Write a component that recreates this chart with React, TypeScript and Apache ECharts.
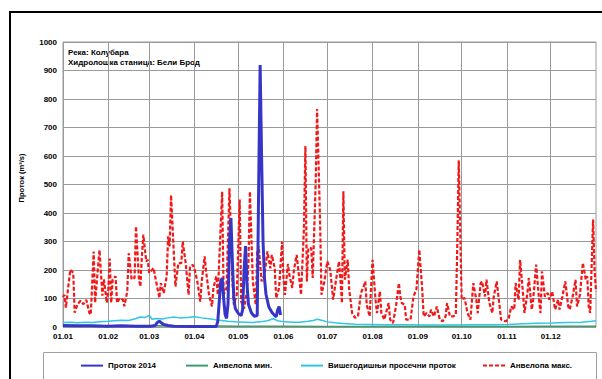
import React, { useEffect, useRef } from "react";
import * as echarts from "echarts";

// Month start days (2014, non-leap) and their tick labels
const MONTH_START_DAYS = [0, 31, 59, 90, 120, 151, 181, 212, 243, 273, 304, 334];
const MONTH_LABELS = ["01.01", "01.02", "01.03", "01.04", "01.05", "01.06", "01.07", "01.08", "01.09", "01.10", "01.11", "01.12"];
const DAYS_IN_YEAR = 365;

const Y_MIN = 0;
const Y_MAX = 1000;
const Y_STEP = 100;

const SERIES_NAMES = ["Проток 2014", "Анвелопа мин.", "Вишегодишњи просечни проток", "Анвелопа макс."];

// [day index, value]
const flow2014: [number, number][] = [
  [0, 5], [10, 4], [20, 4], [30, 3], [40, 4], [50, 3], [60, 3], [63, 5], [64, 12], [65, 18], [66, 20], [67, 16],
  [69, 9], [72, 5], [76, 3], [90, 2], [105, 2], [106, 20], [107, 90], [108, 160], [109, 172], [110, 100], [111, 45],
  [112, 30], [113, 80], [114, 300], [115, 382], [116, 230], [117, 100], [118, 65], [120, 48], [122, 40], [123, 60],
  [124, 200], [125, 284], [126, 150], [127, 80], [129, 50], [131, 38], [133, 40], [134, 500], [135, 919], [136, 600],
  [137, 300], [138, 170], [139, 115], [141, 70], [143, 52], [145, 40], [146, 36], [147, 60], [148, 72], [149, 42],
];

const envelopeMin: [number, number][] = [
  [0, 4], [30, 4], [60, 4], [90, 4], [120, 3], [150, 3], [180, 2], [210, 1.5], [270, 1.5], [300, 2], [330, 2.5], [365, 3],
];

const meanFlow: [number, number][] = [
  [0, 16], [5, 17], [10, 15], [15, 17], [20, 16], [25, 18], [31, 20], [35, 22], [40, 24], [45, 23], [50, 30], [53, 35],
  [56, 33], [59, 41], [61, 27], [64, 30], [68, 28], [72, 32], [76, 35], [80, 32], [85, 33], [90, 36], [95, 32], [100, 29],
  [105, 25], [110, 22], [113, 20], [118, 18], [125, 17], [130, 16], [135, 18], [140, 22], [144, 29], [147, 22], [152, 18],
  [158, 17], [162, 17], [168, 20], [172, 24], [174, 27], [177, 24], [181, 18], [186, 15], [192, 12], [200, 10], [210, 9],
  [220, 8], [235, 8], [250, 7], [265, 7], [280, 8], [295, 8], [305, 9], [315, 11], [325, 13], [335, 14], [345, 16],
  [355, 17], [362, 20], [365, 22],
];

const envelopeMax: [number, number][] = [
  [0, 105], [1, 113], [2, 68], [3, 115], [5, 201], [7, 190], [8, 50], [10, 80], [12, 92], [14, 80], [16, 95], [18, 50],
  [19, 43], [21, 265], [22, 85], [24, 213], [25, 270], [27, 110], [28, 167], [30, 85], [31, 132], [32, 240], [33, 85],
  [34, 167], [36, 178], [37, 85], [39, 102], [41, 96], [42, 73], [44, 125], [45, 259], [47, 167], [49, 172], [50, 353],
  [52, 167], [53, 142], [54, 247], [55, 324], [57, 230], [58, 236], [59, 190], [61, 201], [62, 207], [64, 154], [66, 102],
  [67, 154], [69, 119], [71, 178], [72, 318], [73, 283], [74, 463], [76, 247], [77, 142], [79, 224], [81, 224], [82, 300],
  [84, 224], [86, 113], [87, 213], [89, 218], [90, 205], [92, 160], [94, 89], [95, 160], [97, 248], [98, 195], [100, 113],
  [102, 72], [103, 137], [105, 178], [106, 113], [109, 475], [110, 113], [112, 137], [114, 487], [116, 160], [117, 78],
  [119, 113], [121, 447], [122, 89], [124, 65], [126, 125], [127, 230], [128, 475], [130, 160], [132, 78], [133, 265],
  [134, 283], [136, 160], [138, 183], [140, 265], [142, 206], [143, 253], [145, 206], [146, 101], [148, 137], [150, 300],
  [151, 172], [152, 113], [154, 221], [155, 183], [157, 137], [158, 195], [160, 253], [162, 160], [163, 113], [165, 347],
  [166, 635], [167, 160], [168, 277], [170, 277], [171, 172], [173, 500], [174, 765], [176, 382], [177, 113], [179, 160],
  [181, 230], [183, 200], [185, 96], [187, 166], [189, 230], [190, 166], [191, 84], [192, 476], [193, 166], [195, 236],
  [196, 131], [198, 49], [200, 32], [202, 37], [204, 119], [206, 143], [207, 160], [208, 78], [210, 37], [211, 143],
  [212, 236], [214, 96], [215, 49], [217, 125], [218, 49], [220, 26], [223, 84], [224, 26], [226, 14], [228, 72],
  [230, 154], [231, 107], [232, 84], [234, 78], [235, 26], [238, 26], [240, 107], [242, 131], [244, 271], [246, 131],
  [247, 37], [249, 49], [251, 37], [252, 61], [254, 37], [256, 72], [258, 26], [260, 20], [262, 37], [263, 84], [265, 37],
  [267, 37], [269, 43], [270, 283], [271, 585], [273, 96], [275, 102], [277, 49], [279, 26], [281, 154], [283, 96],
  [284, 49], [286, 154], [287, 160], [289, 107], [290, 166], [292, 84], [294, 49], [295, 107], [297, 160], [299, 72],
  [300, 26], [303, 20], [305, 26], [306, 49], [307, 72], [309, 61], [310, 154], [312, 96], [313, 236], [315, 119],
  [316, 49], [318, 119], [319, 172], [321, 61], [322, 96], [324, 219], [326, 96], [327, 49], [328, 195], [330, 107],
  [332, 119], [333, 96], [335, 125], [337, 61], [339, 96], [340, 61], [342, 107], [344, 160], [346, 72], [347, 61],
  [349, 107], [351, 166], [352, 72], [354, 113], [356, 225], [357, 195], [358, 166], [359, 178], [360, 72], [361, 49],
  [363, 377], [364, 200], [365, 125],
];

const COLORS = {
  flow: "#3535c8",
  min: "#3a9d6e",
  mean: "#2ec6e6",
  max: "#f01818",
};

const FONT = "'Liberation Sans', Arial, sans-serif";

function buildCategories(): string[] {
  const cats: string[] = [];
  let m = 0;
  for (let d = 0; d <= DAYS_IN_YEAR; d++) {
    while (m + 1 < MONTH_START_DAYS.length && d >= MONTH_START_DAYS[m + 1]) m++;
    if (d === DAYS_IN_YEAR) {
      cats.push("01.01.");
      continue;
    }
    const dayOfMonth = d - MONTH_START_DAYS[m] + 1;
    const label = MONTH_LABELS[m].slice(3);
    cats.push(String(dayOfMonth).padStart(2, "0") + "." + label);
  }
  return cats;
}

export default function App() {
  const ref = useRef<HTMLDivElement>(null);

  useEffect(() => {
    if (!ref.current) return;
    const chart = echarts.init(ref.current, null, { renderer: "svg" });
    const categories = buildCategories();
    const monthSet = new Set(MONTH_START_DAYS);

    const legendCommon = {
      top: 360,
      padding: 0,
      itemWidth: 22,
      itemHeight: 14,
      itemStyle: { opacity: 0 },
      textStyle: { fontSize: 8, fontWeight: "bold", color: "#000", fontFamily: FONT },
      selectedMode: false,
    };

    chart.setOption({
      animation: false,
      backgroundColor: "#fff",
      grid: {
        left: 63,
        right: 6,
        top: 42,
        bottom: 52,
        show: true,
        borderColor: "#9a9a9a",
        borderWidth: 1,
      },
      legend: [
        { ...legendCommon, left: 80, data: [SERIES_NAMES[0]] },
        { ...legendCommon, left: 185, data: [SERIES_NAMES[1]] },
        { ...legendCommon, left: 300, data: [SERIES_NAMES[2]] },
        { ...legendCommon, left: 482, data: [SERIES_NAMES[3]] },
      ],
      xAxis: {
        type: "category",
        data: categories,
        boundaryGap: false,
        axisLine: { show: false },
        axisTick: { show: false },
        axisLabel: {
          interval: (i: number) => monthSet.has(i),
          formatter: (v: string, i: number) => {
            const idx = MONTH_START_DAYS.indexOf(i);
            return idx >= 0 ? MONTH_LABELS[idx] : "";
          },
          fontSize: 8,
          fontWeight: "bold",
          color: "#000",
          fontFamily: FONT,
          margin: 5,
        },
        splitLine: {
          show: true,
          interval: (i: number) => monthSet.has(i),
          lineStyle: { color: "#9a9a9a", width: 1 },
        },
      },
      yAxis: {
        type: "value",
        min: Y_MIN,
        max: Y_MAX,
        interval: Y_STEP,
        axisLine: { show: false },
        axisTick: { show: false },
        axisLabel: {
          formatter: (v: number) => String(v),
          fontSize: 8,
          fontWeight: "bold",
          color: "#000",
          fontFamily: FONT,
          margin: 6,
        },
        splitLine: { show: true, lineStyle: { color: "#9a9a9a", width: 1 } },
      },
      graphic: [
        {
          type: "rect",
          shape: { x: 10, y: 12, width: 700, height: 500 },
          style: { fill: "none", stroke: "#000", lineWidth: 2 },
          silent: true,
        },
        {
          type: "rect",
          shape: { x: 43.5, y: 352.5, width: 553, height: 100 },
          style: { fill: "none", stroke: "#a0a0a0", lineWidth: 1 },
          silent: true,
        },
        {
          type: "text",
          x: 68,
          y: 48,
          style: {
            text: "Река: Колубара\nХидролошка станица: Бели Брод",
            font: `bold 8px ${FONT}`,
            fill: "#000",
            lineHeight: 9.5,
          },
          silent: true,
        },
        {
          type: "text",
          x: 21,
          y: 178,
          rotation: Math.PI / 2,
          style: {
            text: "Проток (m³/s)",
            font: `bold 7.5px ${FONT}`,
            fill: "#000",
            align: "center",
            verticalAlign: "middle",
          },
          silent: true,
        },
      ],
      series: [
        {
          name: SERIES_NAMES[3],
          type: "line",
          data: envelopeMax,
          symbol: "none",
          lineStyle: { color: COLORS.max, width: 2.2, type: [4, 2] },
          itemStyle: { color: COLORS.max },
          z: 2,
        },
        {
          name: SERIES_NAMES[2],
          type: "line",
          data: meanFlow,
          symbol: "none",
          lineStyle: { color: COLORS.mean, width: 1.5 },
          itemStyle: { color: COLORS.mean },
          z: 3,
        },
        {
          name: SERIES_NAMES[1],
          type: "line",
          data: envelopeMin,
          symbol: "none",
          lineStyle: { color: COLORS.min, width: 1.5 },
          itemStyle: { color: COLORS.min },
          z: 4,
        },
        {
          name: SERIES_NAMES[0],
          type: "line",
          data: flow2014,
          symbol: "none",
          lineStyle: { color: COLORS.flow, width: 3 },
          itemStyle: { color: COLORS.flow },
          z: 5,
        },
      ],
    });

    return () => chart.dispose();
  }, []);

  return (
    <div
      ref={ref}
      style={{ position: "fixed", left: 0, top: 0, width: 602, height: 379, background: "#fff" }}
    />
  );
}
